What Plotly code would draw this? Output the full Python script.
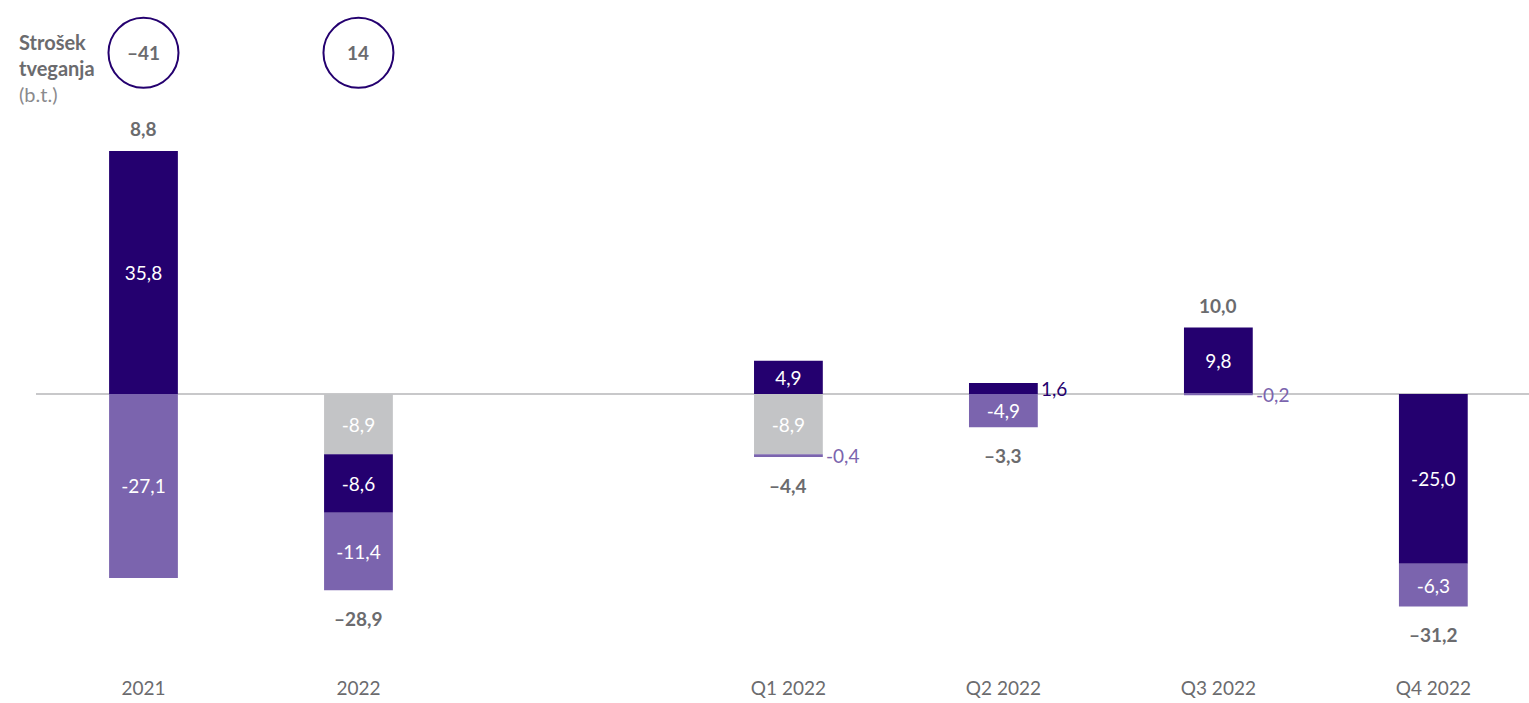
import plotly.graph_objects as go

# kategorije (prazna kategorija je razmik med letnimi in četrtletnimi podatki)
kategorije = ["2021", "2022", " ", "Q1 2022", "Q2 2022", "Q3 2022", "Q4 2022"]
siva = [None, -8.9, None, -8.9, None, None, None]
temna = [35.8, -8.6, None, 4.9, 1.6, 9.8, -25.0]
svetla = [-27.1, -11.4, None, -0.4, -4.9, -0.2, -6.3]
skupaj = [8.8, -28.9, None, -4.4, -3.3, 10.0, -31.2]
strosek_tveganja = ["–41", "14"]

C_TEMNA = "#24006f"
C_SVETLA = "#7b64ae"
C_SIVA = "#c3c4c6"
C_TEKST = "#6b6b6e"
FONT = "Lato, sans-serif"


def fmt(v, dash="-"):
    s = f"{abs(v):.1f}".replace(".", ",")
    return (dash + s) if v < 0 else s


def notri(vals):
    return [fmt(v) if v is not None and abs(v) >= 2 else "" for v in vals]


fig = go.Figure()
for ime, vals, barva in [("siva", siva, C_SIVA), ("temna", temna, C_TEMNA), ("svetla", svetla, C_SVETLA)]:
    fig.add_trace(go.Bar(
        name=ime,
        x=kategorije,
        y=vals,
        marker=dict(color=barva, line=dict(width=0)),
        width=0.32,
        text=notri(vals),
        textposition="inside",
        insidetextanchor="middle",
        textangle=0,
        textfont=dict(color="white", size=19, family=FONT),
        hoverinfo="skip",
    ))

annotations = []

# majhne vrednosti: oznaka desno od stolpca
for vals, barva, prej in [(temna, C_TEMNA, [siva]), (svetla, C_SVETLA, [siva, temna])]:
    for i, v in enumerate(vals):
        if v is None or abs(v) >= 2:
            continue
        base = sum(p[i] for p in prej if p[i] is not None and (p[i] < 0) == (v < 0))
        annotations.append(dict(
            x=i, y=base + v / 2, text=fmt(v), showarrow=False,
            xanchor="left", yanchor="middle", xshift=36,
            font=dict(color=barva, size=19, family=FONT),
        ))

# skupne vrednosti nad / pod stolpci
for i, t in enumerate(skupaj):
    if t is None:
        continue
    deli = [s[i] for s in (siva, temna, svetla) if s[i] is not None]
    if t >= 0:
        y = sum(d for d in deli if d > 0)
        ys = 22
    else:
        y = sum(d for d in deli if d < 0)
        ys = -28
    annotations.append(dict(
        x=i, y=y, text=f"<b>{fmt(t, '–')}</b>", showarrow=False,
        xanchor="center", yanchor="middle", yshift=ys,
        font=dict(color=C_TEKST, size=19, family=FONT),
    ))

# strošek tveganja v krogih
shapes = []
for i, s in enumerate(strosek_tveganja):
    shapes.append(dict(
        type="circle", xref="x", yref="paper", xsizemode="pixel", ysizemode="pixel",
        xanchor=i, yanchor=1.082, x0=-35, x1=35, y0=-35, y1=35,
        line=dict(color=C_TEMNA, width=2),
    ))
    annotations.append(dict(
        x=i, y=1.082, yref="paper", text=f"<b>{s}</b>", showarrow=False,
        xanchor="center", yanchor="middle",
        font=dict(color=C_TEKST, size=19, family=FONT),
    ))

annotations.append(dict(
    x=0, xref="paper", y=1.125, yref="paper", xanchor="left", yanchor="top",
    xshift=-19, align="left", showarrow=False,
    text="<b>Strošek<br>tveganja</b><br><span style='color:#8a8a8d'>(b.t.)</span>",
    font=dict(color=C_TEKST, size=20, family=FONT),
))

fig.update_layout(
    barmode="relative",
    width=1529, height=703,
    paper_bgcolor="white", plot_bgcolor="white",
    margin=dict(l=36, r=0, t=100, b=28, autoexpand=False),
    showlegend=False,
    font=dict(family=FONT, color=C_TEKST),
    xaxis=dict(
        type="category", range=[-0.5, 6.445], showgrid=False, showline=False,
        zeroline=False, tickfont=dict(size=19, color=C_TEKST, family=FONT),
        ticks="", fixedrange=True,
    ),
    yaxis=dict(
        range=[-41.4, 43.3], showgrid=False, showticklabels=False,
        zeroline=True, zerolinecolor="#c8c8ca", zerolinewidth=1.5,
        fixedrange=True,
    ),
    shapes=shapes,
    annotations=annotations,
)

fig.write_html(
    "out.html",
    config={"displayModeBar": False},
    post_script="document.body.style.margin='0';",
)
